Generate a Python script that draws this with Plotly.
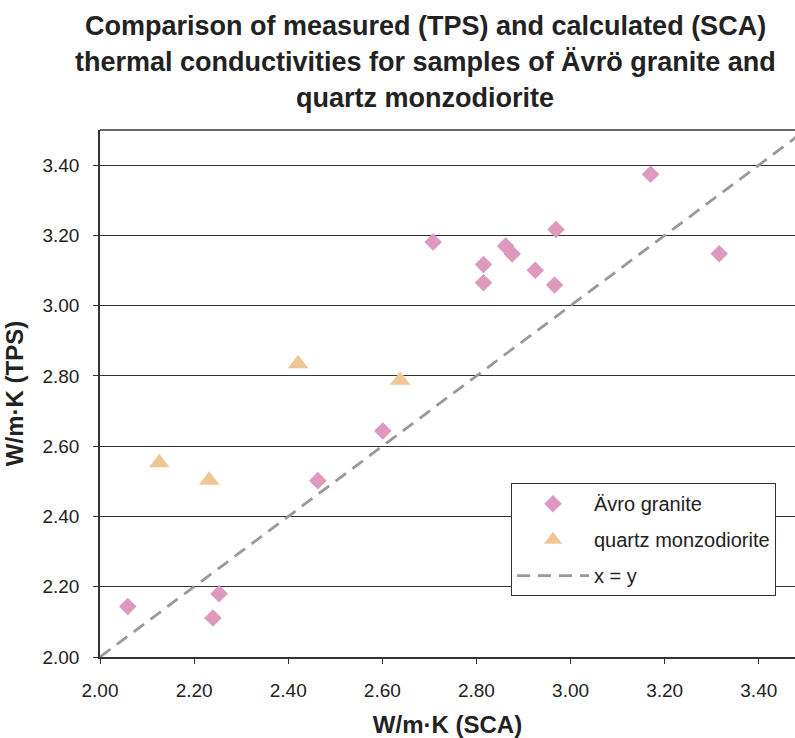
import plotly.graph_objects as go

# Data
granite_sca = [2.059, 2.240, 2.253, 2.463, 2.601, 2.708, 2.815, 2.815, 2.862, 2.876, 2.925, 2.966, 2.969, 3.170, 3.316]
granite_tps = [2.144, 2.111, 2.180, 2.502, 2.643, 3.181, 3.117, 3.065, 3.170, 3.147, 3.101, 3.059, 3.217, 3.374, 3.148]

quartz_sca = [2.126, 2.232, 2.421, 2.638]
quartz_tps = [2.553, 2.503, 2.835, 2.788]

line_xy = [2.0, 3.5]

tick_vals = [2.0, 2.2, 2.4, 2.6, 2.8, 3.0, 3.2, 3.4]
tick_text = ["2.00", "2.20", "2.40", "2.60", "2.80", "3.00", "3.20", "3.40"]

title_lines = [
    "Comparison of measured (TPS) and calculated (SCA)",
    "thermal conductivities for samples of Ävrö granite and",
    "quartz monzodiorite",
]

FONT = "Liberation Sans, Arial, sans-serif"

fig = go.Figure()
fig.add_trace(go.Scatter(
    x=granite_sca, y=granite_tps, mode="markers", name="Ävro granite",
    legendgroup="a",
    marker=dict(symbol="diamond", size=13.5, color="#DD99BE", line=dict(width=0)),
))
fig.add_trace(go.Scatter(
    x=quartz_sca, y=quartz_tps, mode="markers", name="quartz monzodiorite",
    legendgroup="b",
    marker=dict(symbol="triangle-up", size=18, color="#EFC797", line=dict(width=0)),
))
fig.add_trace(go.Scatter(
    x=line_xy, y=line_xy, mode="lines", name="x = y",
    legendgroup="c",
    line=dict(color="#999999", width=2.8, dash="13px,8px"),
))

annotations = []
for i, t in enumerate(title_lines):
    annotations.append(dict(
        text="<b>" + t + "</b>", xref="paper", yref="paper",
        x=(425 - 100) / 695, y=1 + (129.5 - (25 + 36 * i)) / 527.5,
        xanchor="center", yanchor="middle", showarrow=False,
        font=dict(family=FONT, size=27, color="#222222"),
    ))

fig.update_layout(
    width=795, height=738,
    margin=dict(l=100, r=0, t=129.5, b=81, autoexpand=False),
    paper_bgcolor="white", plot_bgcolor="white",
    font=dict(family=FONT, size=19, color="#222222"),
    annotations=annotations,
    showlegend=True,
    legend=dict(
        x=(511 - 100) / 695, y=(657 - 483) / 527.5, xanchor="left", yanchor="top",
        bgcolor="white", bordercolor="#333333", borderwidth=1,
        font=dict(family=FONT, size=20, color="#222222"),
        tracegroupgap=7, itemwidth=72,
    ),
    shapes=[dict(type="line", xref="paper", yref="paper", x0=0, x1=1, y0=1, y1=1,
                 line=dict(color="#333333", width=1.5))],
)

fig.update_xaxes(
    range=[2.0, 3.477], tickvals=tick_vals, ticktext=tick_text,
    showgrid=False, zeroline=False,
    showline=True, linecolor="#333333", linewidth=1.5,
    ticks="outside", ticklen=5, tickcolor="#333333",
    ticklabelstandoff=10,
    tickfont=dict(size=19, color="#222222"),
    title=dict(text="<b>W/m·K (SCA)</b>", font=dict(size=24, color="#222222"), standoff=21),
)
fig.update_yaxes(
    range=[2.0, 3.5], tickvals=tick_vals, ticktext=tick_text,
    showgrid=True, gridcolor="#333333", gridwidth=1, zeroline=False,
    showline=True, linecolor="#333333", linewidth=1.5,
    ticks="outside", ticklen=5, tickcolor="#333333",
    ticklabelstandoff=10,
    tickfont=dict(size=19, color="#222222"),
    title=dict(text="<b>W/m·K (TPS)</b>", font=dict(size=24, color="#222222"), standoff=12),
)

fig.write_html("out.html")
